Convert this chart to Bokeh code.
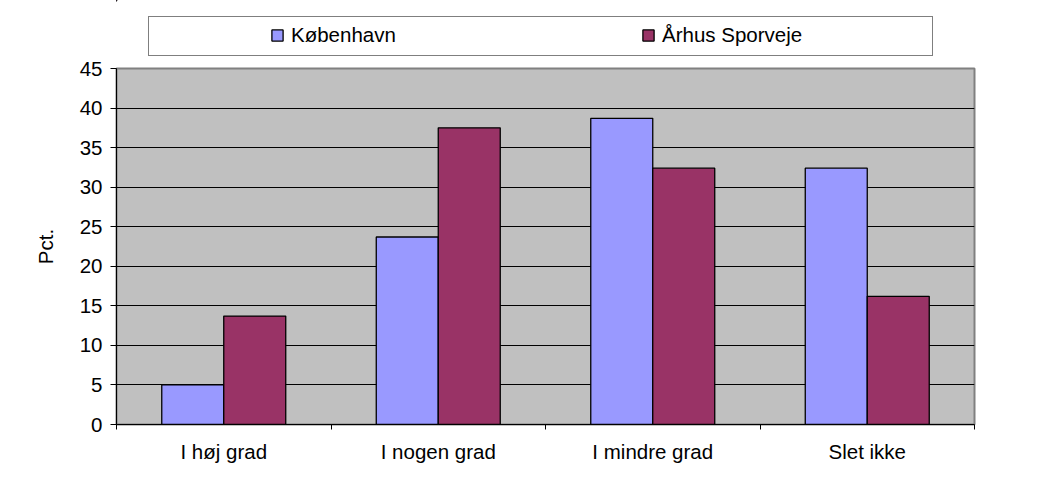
from bokeh.plotting import figure
from bokeh.layouts import column
from bokeh.models import (ColumnDataSource, Range1d, LinearAxis,
                          FixedTicker, Legend, LegendItem)
from bokeh.transform import dodge
from bokeh.embed import file_html
from bokeh.resources import INLINE

categories = ["I høj grad", "I nogen grad", "I mindre grad", "Slet ikke"]
kobenhavn = [5.0, 23.7, 38.7, 32.4]
aarhus = [13.7, 37.5, 32.4, 16.2]
series_names = ["København", "Århus Sporveje"]
y_ticks = [0, 5, 10, 15, 20, 25, 30, 35, 40, 45]

FONT = "Liberation Sans"
FS = "20.5px"
KBH_COLOR = "#9999FF"
AAR_COLOR = "#993366"
W = 1040
BL, BR = 116, 66

n = len(categories)
centers = [i + 0.5 for i in range(n)]
bounds = list(range(n + 1))
source = ColumnDataSource(data=dict(xc=centers, kbh=kobenhavn, aar=aarhus))

# ---------- legend strip above the plot area ----------
# its ranges keep the (legend-only) bars completely out of view
lp = figure(x_range=Range1d(10, 10 + n), y_range=Range1d(-101, -100), width=W, height=56,
            output_backend="svg", toolbar_location=None,
            x_axis_location=None, y_axis_location=None,
            min_border_left=BL, min_border_right=BR, min_border_top=0, min_border_bottom=0)
lp.xgrid.visible = False
lp.ygrid.visible = False
lp.background_fill_color = "white"
lp.border_fill_color = "white"
lp.outline_line_color = None
lk = lp.vbar(x=dodge("xc", -0.1), top="kbh", width=0.2, source=source,
             fill_color=KBH_COLOR, line_color="black", line_width=1.3)
la = lp.vbar(x=dodge("xc", 0.1), top="aar", width=0.2, source=source,
             fill_color=AAR_COLOR, line_color="black", line_width=1.3)
box_src = ColumnDataSource(data=dict(x=[], top=[]))
box_r = lp.vbar(x="x", top="top", width=0.1, source=box_src, fill_alpha=0, line_alpha=0)

box_legend = Legend(items=[LegendItem(label=" ", renderers=[box_r])],
                    location=(32, 0), padding=0, margin=0, spacing=0,
                    glyph_width=1, glyph_height=38, label_standoff=0,
                    label_width=782, label_height=38,
                    label_text_font=FONT, label_text_font_size=FS,
                    border_line_color="black", border_line_width=1,
                    background_fill_color="white", background_fill_alpha=1)
lp.add_layout(box_legend, "center")

legend = Legend(items=[LegendItem(label=series_names[0], renderers=[lk]),
                       LegendItem(label=series_names[1], renderers=[la])],
                orientation="horizontal", location=(154, 9),
                padding=0, margin=0, spacing=150,
                glyph_width=14, glyph_height=14, label_standoff=7,
                label_width=200, label_height=24,
                label_text_font=FONT, label_text_font_size=FS, label_text_color="black",
                border_line_color=None, background_fill_alpha=0)
lp.add_layout(legend, "center")

# ---------- main chart ----------
p = figure(x_range=Range1d(0, n), y_range=Range1d(0, 45),
           width=W, height=432, output_backend="svg", toolbar_location=None,
           x_axis_location=None,
           min_border_left=BL, min_border_right=BR, min_border_top=12, min_border_bottom=64)
p.background_fill_color = "#C0C0C0"
p.border_fill_color = "white"
p.outline_line_color = "#808080"
p.outline_line_width = 2

bw = 0.289
p.vbar(x=dodge("xc", -bw / 2), top="kbh", width=bw, source=source,
       fill_color=KBH_COLOR, line_color="black", line_width=1.3)
p.vbar(x=dodge("xc", bw / 2), top="aar", width=bw, source=source,
       fill_color=AAR_COLOR, line_color="black", line_width=1.3)

p.xgrid.visible = False
p.ygrid.ticker = FixedTicker(ticks=y_ticks)
p.ygrid.grid_line_color = "black"
p.ygrid.grid_line_width = 1

ya = p.yaxis[0]
ya.ticker = FixedTicker(ticks=y_ticks)
ya.axis_label = "Pct."
ya.axis_label_text_font = FONT
ya.axis_label_text_font_size = FS
ya.axis_label_text_font_style = "normal"
ya.axis_label_text_color = "black"
ya.axis_label_standoff = 20
ya.major_label_text_font = FONT
ya.major_label_text_font_size = FS
ya.major_label_text_color = "black"
ya.major_label_standoff = 8
ya.major_tick_out = 6
ya.major_tick_in = 0
ya.minor_tick_out = 0
ya.minor_tick_in = 0
ya.axis_line_color = "black"
ya.major_tick_line_color = "black"

# tick marks between categories (no labels)
tick_axis = LinearAxis(ticker=FixedTicker(ticks=bounds),
                       major_label_overrides={b: "" for b in bounds})
tick_axis.major_label_standoff = 0
tick_axis.major_tick_out = 5
tick_axis.major_tick_in = 0
tick_axis.minor_tick_out = 0
tick_axis.minor_tick_in = 0
tick_axis.axis_line_color = "black"
tick_axis.major_tick_line_color = "black"
p.add_layout(tick_axis, "below")

# category labels
cat_axis = LinearAxis(ticker=FixedTicker(ticks=centers),
                      major_label_overrides={c: lab for c, lab in zip(centers, categories)})
cat_axis.major_tick_out = 0
cat_axis.major_tick_in = 0
cat_axis.minor_tick_out = 0
cat_axis.minor_tick_in = 0
cat_axis.axis_line_color = None
cat_axis.major_label_text_font = FONT
cat_axis.major_label_text_font_size = FS
cat_axis.major_label_text_color = "black"
cat_axis.major_label_standoff = 10
p.add_layout(cat_axis, "below")

layout = column(lp, p, spacing=0)
open("out.html", "w").write(file_html(layout, INLINE))
